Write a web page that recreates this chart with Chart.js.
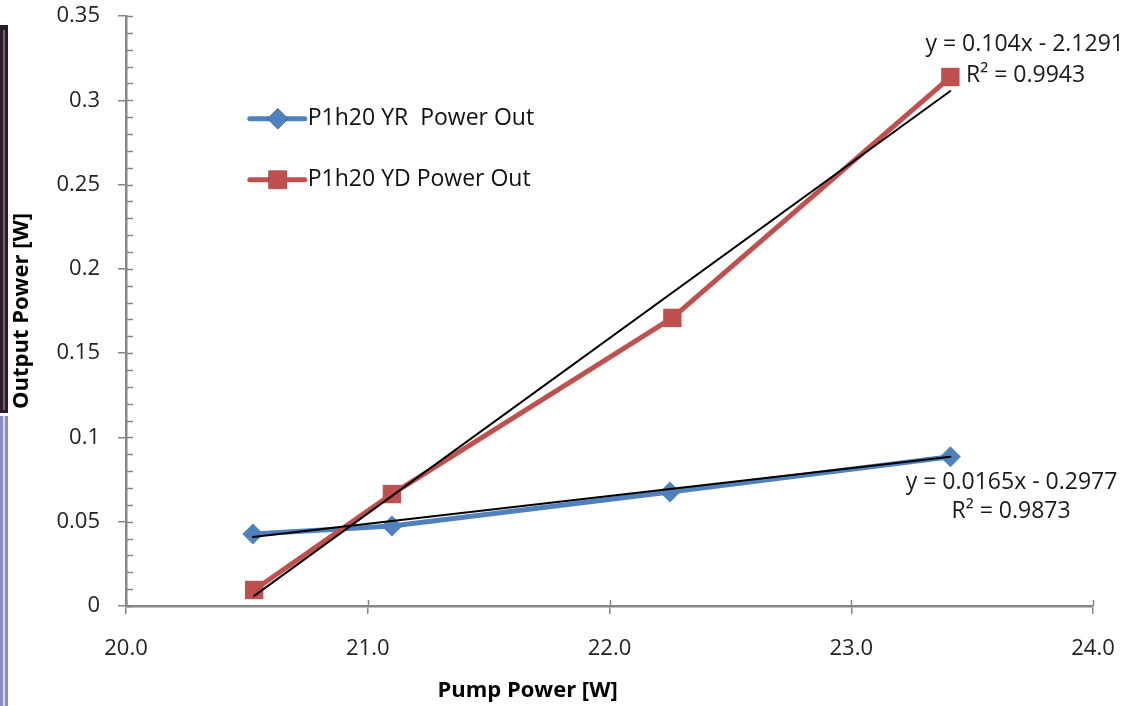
<!DOCTYPE html>
<html>
<head>
<meta charset="utf-8">
<script src="https://cdn.jsdelivr.net/npm/chart.js@4.4.1/dist/chart.umd.min.js"></script>
<style>
  html, body { margin: 0; padding: 0; background: #ffffff; }
  #wrap { position: relative; width: 1125px; height: 706px; }
  canvas { display: block; }
  .stripTop { position: absolute; left: 0; top: 25px; width: 8px; height: 388px; background: #2b1b2b; }
  .stripTopLine { position: absolute; left: 3px; top: 30px; width: 2px; height: 380px; background: #7a5f7a; }
  .stripBot { position: absolute; left: 0; top: 416px; width: 8px; height: 290px; background: #8c8ccc; }
  .stripBotLine { position: absolute; left: 3px; top: 416px; width: 2px; height: 290px; background: #d8d8f0; }
</style>
</head>
<body>
<div id="wrap">
  <canvas id="c" width="1125" height="706"></canvas>
  <div class="stripTop"></div><div class="stripTopLine"></div>
  <div class="stripBot"></div><div class="stripBotLine"></div>
</div>
<script>
// ---- data ----
const pumpYR  = [20.525, 21.10, 22.25, 23.41];
const powerYR = [0.0427, 0.0475, 0.0676, 0.0886];
const pumpYD  = [20.53, 21.10, 22.26, 23.41];
const powerYD = [0.0095, 0.0664, 0.1709, 0.3138];
const trendYRx = [20.525, 23.41];
const trendYRy = [0.0410, 0.0886];
const trendYDx = [20.53, 23.41];
const trendYDy = [0.0060, 0.3055];
const seriesLabels = ['P1h20 YR  Power Out', 'P1h20 YD Power Out'];
const xTickLabels = ['20.0', '21.0', '22.0', '23.0', '24.0'];
const yTickLabels = ['0', '0.05', '0.1', '0.15', '0.2', '0.25', '0.3', '0.35'];
const xTitle = 'Pump Power [W]';
const yTitle = 'Output Power [W]';
const eqTexts = ['y = 0.104x - 2.1291', 'R\u00b2 = 0.9943', 'y = 0.0165x - 0.2977', 'R\u00b2 = 0.9873'];
const eqX = [24.128, 23.475, 23.663, 23.661];
const eqY = [0.3334, 0.315, 0.0730, 0.0558];
const eqAlign = ['right', 'left', 'center', 'center'];
const legendX = 20.512;
const legendY = [0.2890, 0.2528];
const xTitleX = 21.661;

const BLUE = '#4f81bd';
const RED = '#c0504d';
const AXIS = '#868686';
const FONT = '"Open Sans", Lato, sans-serif';

function pts(xs, ys) { return xs.map((x, i) => ({ x: x, y: ys[i] })); }

const extrasPlugin = {
  id: 'extras',
  afterDraw(chart) {
    const ctx = chart.ctx;
    const xs = chart.scales.x, ys = chart.scales.y;
    const ca = chart.chartArea;
    ctx.save();
    // inward halves of major ticks + minor ticks
    ctx.strokeStyle = AXIS;
    ctx.lineWidth = 1.5;
    ctx.beginPath();
    for (let v = ys.min; v <= ys.max + 1e-9; v += 0.01) {
      const py = Math.round(ys.getPixelForValue(v)) + 0.5;
      ctx.moveTo(ca.left, py);
      ctx.lineTo(ca.left + 7, py);
    }
    for (let v = xs.min; v <= xs.max + 1e-9; v += 1) {
      const px = Math.round(xs.getPixelForValue(v)) + 0.5;
      ctx.moveTo(px, ca.bottom);
      ctx.lineTo(px, ca.bottom - 6);
    }
    ctx.stroke();

    // legend
    const ds = [chart.data.datasets[0], chart.data.datasets[1]];
    const lx0 = xs.getPixelForValue(legendX);
    ds.forEach((d, i) => {
      const py = ys.getPixelForValue(legendY[i]);
      ctx.strokeStyle = d.borderColor;
      ctx.lineWidth = 5;
      ctx.lineCap = 'round';
      ctx.beginPath();
      ctx.moveTo(lx0, py);
      ctx.lineTo(lx0 + 55, py);
      ctx.stroke();
      Chart.helpers.drawPoint(ctx, {
        pointStyle: d.pointStyle, radius: d.pointRadius, rotation: 0, borderWidth: 0
      }, lx0 + 28, py);
      ctx.fillStyle = d.borderColor;
      ctx.fill();
      ctx.fillStyle = '#111';
      ctx.font = '23px ' + FONT;
      ctx.textAlign = 'left';
      ctx.textBaseline = 'middle';
      ctx.fillText(d.label, lx0 + 58, py);
    });

    // trendline equations
    ctx.fillStyle = '#1a1a1a';
    ctx.font = '23px ' + FONT;
    ctx.textBaseline = 'middle';
    eqTexts.forEach((t, i) => {
      ctx.textAlign = eqAlign[i];
      ctx.fillText(t, xs.getPixelForValue(eqX[i]), ys.getPixelForValue(eqY[i]));
    });

    // x axis title
    ctx.fillStyle = '#000';
    ctx.font = 'bold 22px ' + FONT;
    ctx.textAlign = 'center';
    ctx.fillText(xTitle, xs.getPixelForValue(xTitleX), ca.bottom + 85);
    ctx.restore();
  }
};

new Chart(document.getElementById('c'), {
  type: 'scatter',
  data: {
    datasets: [
      { label: seriesLabels[0], data: pts(pumpYR, powerYR), showLine: true,
        borderColor: BLUE, backgroundColor: BLUE, borderWidth: 5,
        pointStyle: 'rectRot', pointRadius: 10.5, pointBorderWidth: 0, order: 2 },
      { label: seriesLabels[1], data: pts(pumpYD, powerYD), showLine: true,
        borderColor: RED, backgroundColor: RED, borderWidth: 5,
        pointStyle: 'rect', pointRadius: 13, pointBorderWidth: 0, order: 1 },
      { label: 'trendYR', data: pts(trendYRx, trendYRy), showLine: true,
        borderColor: '#000', borderWidth: 2, pointRadius: 0, order: 0 },
      { label: 'trendYD', data: pts(trendYDx, trendYDy), showLine: true,
        borderColor: '#000', borderWidth: 2, pointRadius: 0, order: 0 }
    ]
  },
  options: {
    responsive: false,
    animation: false,
    devicePixelRatio: 1,
    layout: { padding: { left: 0, right: 32, top: 16, bottom: 0 } },
    plugins: { legend: { display: false }, tooltip: { enabled: false } },
    elements: { line: { tension: 0, borderCapStyle: 'round', borderJoinStyle: 'round' } },
    scales: {
      x: {
        type: 'linear', min: 20, max: 24,
        afterFit(s) { s.height = 100; s.paddingLeft = 0; s.paddingRight = 0; },
        ticks: { stepSize: 1, padding: 22, color: '#222', font: { size: 22, family: FONT },
                 callback: (v, i) => xTickLabels[i] },
        grid: { drawOnChartArea: false, drawTicks: true, tickLength: 8, color: AXIS, lineWidth: 1.5 },
        border: { display: true, color: AXIS, width: 2.5 }
      },
      y: {
        type: 'linear', min: 0, max: 0.35,
        afterFit(s) { s.width = 126; s.paddingTop = 0; s.paddingBottom = 0; },
        ticks: { stepSize: 0.05, padding: 18, color: '#222', font: { size: 22, family: FONT },
                 callback: (v, i) => yTickLabels[i] },
        grid: { drawOnChartArea: false, drawTicks: true, tickLength: 8, color: AXIS, lineWidth: 1.5 },
        border: { display: true, color: AXIS, width: 2.5 },
        title: { display: true, text: yTitle, color: '#000', padding: { top: 9, bottom: 0 },
                 font: { size: 22, weight: 'bold', family: FONT } }
      }
    }
  },
  plugins: [extrasPlugin]
});
</script>
</body>
</html>
